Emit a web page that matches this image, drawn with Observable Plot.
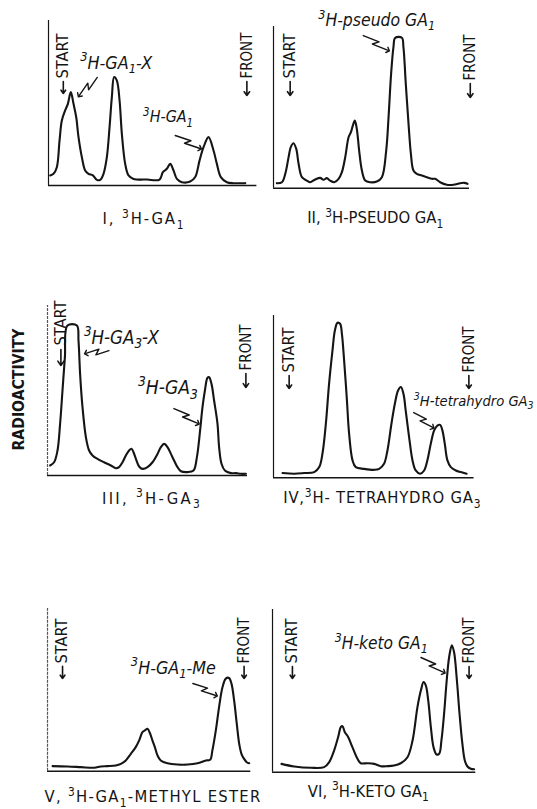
<!DOCTYPE html>
<html><head><meta charset="utf-8">
<script src="https://cdn.jsdelivr.net/npm/d3@7"></script>
<script src="https://cdn.jsdelivr.net/npm/@observablehq/plot@0.6"></script>
<style>
body{margin:0;background:#fff}
#chart{position:relative;width:537px;height:809px;overflow:hidden;background:#fff}
#chart svg{position:absolute;overflow:visible;background:transparent}
</style>
</head><body><div id="chart"></div><script>
// ---- data: chromatogram traces (x = % of distance along the strip, y = relative radioactivity) ----
const traceI = [[0.8,6.1],[2.4,7.1],[4,11.1],[5.3,27.3],[6.4,39.4],[8,45.5],[9.3,49.5],[10.7,56.6],[12,49.5],[13.3,41.4],[14.4,29.3],[16,17.2],[17.6,9.1],[19.2,7.1],[21.3,6.1],[23.2,3.4],[24.8,3.4],[26.4,7.1],[28,17.2],[29.3,35.4],[30.4,53.5],[31.5,65.7],[32.8,63.6],[34.1,51.5],[35.2,31.3],[36.8,13.1],[38.4,6.1],[40.8,4],[47.2,3.6],[53.3,3.6],[54.9,8.1],[56.8,10.1],[58.4,13.1],[60,9.1],[61.6,4],[64,2],[68,2.4],[70.4,5.1],[72.5,15.2],[74.4,23.2],[76.8,29.3],[79.2,21.2],[80.8,13.1],[82.7,5.1],[85.6,2],[88.8,1.4],[94.4,1.4]];
const traceII = [[1.7,3.1],[4.3,3.7],[6,8.9],[7.7,19.2],[8.8,25.4],[10.2,27.8],[11.6,24.3],[12.8,15.1],[14.5,6.8],[17,4.7],[18.7,3.7],[21.3,5.4],[23.8,6.4],[25.5,5.2],[27.2,6.2],[28.9,4.7],[31,3.7],[33.2,5.8],[34.9,9.9],[36.6,19.2],[38.3,31.5],[39.5,34.6],[40.5,38.8],[41.5,41.9],[42.5,36.7],[43.7,23.3],[45.1,10.9],[46.8,4.7],[49.3,3.7],[52.7,4.1],[55.3,6.8],[57.5,23.3],[58.7,43.9],[60,70.7],[61.2,87.2],[62.1,93],[65.5,93],[66.3,87.2],[67.5,64.5],[68.9,39.8],[70.1,21.2],[71.4,10.9],[73.1,8.9],[75.7,7.8],[78.2,6.8],[80.8,5.8],[82.5,5.8],[85,3.7],[88.4,2.1],[91.8,2.1],[95.2,3.1],[97.3,3.3],[99,2.7]];
const traceIII = [[1.3,5.9],[3.3,7.8],[5,14.7],[6.3,30.4],[7.5,50],[8.7,69.6],[10,88.2],[14.7,88.2],[15.5,79.4],[16.3,59.8],[17.5,40.2],[19.2,22.5],[20.8,14.7],[22.5,11.8],[25,9.8],[28.3,7.8],[31.7,5.9],[34.2,4.3],[35.8,4.9],[37.5,7.8],[39.2,11.8],[40.8,14.7],[42,15.7],[43,13.7],[44.2,9.8],[45.8,5.3],[47.5,3.9],[50,4.9],[52.5,7.8],[55,12.7],[56.7,16.7],[58.3,18.6],[60,16.7],[61.7,12.7],[63.3,8.8],[65,4.9],[66.7,2.5],[70,2],[73,2.9],[74.7,10.8],[76.3,26.5],[77.5,40.2],[78.7,50],[80,57.5],[80.8,57.8],[82,53.9],[83.3,44.1],[85,30.4],[85.8,16.7],[87,6.9],[88.7,2.9],[91.7,1.4],[94.2,1.4],[96.7,1],[99.2,1]];
const traceIV = [[4.5,2.9],[10.3,2.5],[15.3,2.9],[20.3,3.5],[22.8,6.6],[24.4,14.8],[26.1,33.3],[27.7,57.9],[29.4,78.4],[30.6,90.8],[31.9,95.5],[33.2,94.9],[34.1,88.7],[35.2,72.3],[36.5,49.7],[37.7,27.1],[39.4,10.7],[41,6.6],[45.2,5.5],[50.2,4.9],[52.7,5.5],[55.1,8.6],[56.8,16.8],[58.8,33.3],[60.5,45.6],[62.1,53.8],[63.5,55.9],[64.8,51.7],[65.9,41.5],[67.6,25.1],[69.3,10.7],[70.9,4.5],[73.1,2.5],[75.1,4.5],[76.7,10.7],[78.4,20.9],[80.1,29.2],[81.7,32.2],[83.1,32.6],[84.2,29.2],[85.4,20.9],[86.7,10.7],[88.4,6.6],[90.9,4.5],[93.4,3.5],[96.3,2.5]];
const traceV = [[2.5,3.1],[9.8,2.9],[16.4,2.5],[23,2.1],[26.2,2.9],[29.5,3.1],[33.6,3.5],[36.1,4.5],[38.5,6.6],[41,10.7],[43.4,14.8],[45.1,18.9],[46.7,24],[47.9,25.1],[49.2,26.1],[50.5,23],[51.6,18.9],[52.8,14.8],[54.1,9.7],[55.7,6.6],[59,4.9],[63.9,4.1],[68.9,4.1],[73.8,4.9],[77.9,6.6],[80,7],[81.1,12.7],[82.8,25.1],[84.4,39.4],[86.1,51.7],[87.7,56.9],[89.3,57.3],[90.5,53.8],[91.8,43.5],[93.1,29.2],[94.3,16.8],[95.4,10.7],[96.7,7.6],[98,5.5],[99.2,4.9]];
const traceVI = [[4.4,5.1],[10.7,3.5],[18.9,2.7],[25.4,3.1],[27.9,6.2],[30.3,13.3],[32.3,21.6],[33.6,27.7],[34.4,28.3],[35.6,24.6],[37.2,21.6],[39.3,15.4],[41.8,8.2],[43.4,5.5],[46.7,5.5],[50,5.1],[53.3,3.7],[56.6,3.7],[59.8,4.1],[63.1,5.5],[66.4,9.2],[68.9,19.5],[71.3,40],[73,50.3],[74.3,55.4],[75.4,53.4],[76.6,44.1],[77.9,27.7],[79.2,15.4],[80.7,10.9],[82,11.3],[83.1,19.5],[84.4,35.9],[85.7,56.5],[86.9,70.8],[88.2,78],[89.3,73.9],[90.7,56.5],[92,35.9],[93.4,17.5],[94.6,7.2],[95.9,3.5],[97.5,2.1],[99.2,1.8]];

// ---- texts ----
const captions = ["I, ³H-GA₁", "II, ³H-PSEUDO GA₁", "III, ³H-GA₃", "IV,³H- TETRAHYDRO GA₃", "V, ³H-GA₁-METHYL ESTER", "VI, ³H-KETO GA₁"];
const yLabel = "RADIOACTIVITY";
const startText = "START";
const frontText = "FRONT";

// ---- annotation anchors (data units) ----
const peakLabels = [
  [{text:"³H-GA₁-X", x:15.2, y:70.9}, {text:"³H-GA₁", x:45.4, y:38.2}],
  [{text:"³H-pseudo GA₁", x:22.8, y:100.6}],
  [{text:"³H-GA₃-X", x:18.2, y:77.6}, {text:"³H-GA₃", x:45.2, y:48.2}],
  [{text:"³H-tetrahydro GA₃", x:69.9, y:44.5}],
  [{text:"³H-GA₁-Me", x:41, y:60}],
  [{text:"³H-keto GA₁", x:30.6, y:76}]
];
const pointerArrows = [
  [[[23.4,65.5],[14.7,54.5]], [[60.8,30.3],[72.8,22.4]]],
  [[[45.8,94.4],[58.5,85.2]]],
  [[[30.7,73.5],[19.2,71.8]], [[63.2,39.4],[75.2,30.6]]],
  [[[69.9,40.2],[79.4,31]]],
  [[[71.5,53.9],[82.9,46.5]]],
  [[[73,70.5],[84.3,61.3]]]
];
// [x, text bottom, arrow top, arrow tip]
const startMark = [[7.1,64.8,63,55.8],[8.5,67.8,66,57.3],[6.7,76.5,74.1,64.7],[7.8,64.9,63,55],[7.4,66.2,64.4,57],[9.8,66.8,65,57.6]];
const frontMark = [[95.2,64.8,63,54.5],[100.4,66.6,64.7,56.1],[99.2,61.8,60,51.8],[97.4,64.9,63,55],[96.7,66.2,64.4,57],[96.7,66.8,65,57.6]];
const captionPos = [[45.4,-23.6],[51.9,-21.8],[51.7,-16.5],[54,-15.8],[51.6,-19.2],[47.1,-15]];
const yLabelPos = [-14.1, 50.6];

// ---- layout (page px of each panel's axes) and text widths to fit (px) ----
const layout = [
  {x0:48.3, x1:256.7, yT:20, yB:185},
  {x0:273.3, x1:469.3, yT:26, yB:187.7},
  {x0:46.7, x1:246.7, yT:305, yB:475},
  {x0:272.7, x1:473.3, yT:315, yB:477.3},
  {x0:46.7, x1:250, yT:608, yB:770.7},
  {x0:271.7, x1:475, yT:609, yB:771.7}
];
// mode: "stretch" = textLength, "size" = scale font size, "space" = letter-spacing
const fitWidth = {
  "START":[45,"stretch"], "FRONT":[46,"stretch"], "RADIOACTIVITY":[122,"stretch"],
  "I, ³H-GA₁":[83,"space"], "II, ³H-PSEUDO GA₁":[136,"space"], "III, ³H-GA₃":[100,"space"], "IV,³H- TETRAHYDRO GA₃":[198,"space"], "V, ³H-GA₁-METHYL ESTER":[217,"space"], "VI, ³H-KETO GA₁":[121,"space"],
  "³H-GA₁-X":[72,"size"], "³H-GA₁":[50,"size"], "³H-pseudo GA₁":[117,"size"], "³H-GA₃-X":[75,"size"], "³H-GA₃":[60,"size"], "³H-tetrahydro GA₃":[120,"size"], "³H-GA₁-Me":[85,"size"], "³H-keto GA₁":[93,"size"]
};
const traces = [traceI, traceII, traceIII, traceIV, traceV, traceVI];

const FONT = "'DejaVu Sans Condensed','Liberation Sans Narrow','DejaVu Sans',sans-serif";
const INK = "#151515";

function bolt(s, e, kx, ky) {
  const sx = s[0]*kx, sy = s[1]*ky, ex = e[0]*kx, ey = e[1]*ky;
  const dx = ex - sx, dy = ey - sy, L = Math.hypot(dx, dy);
  const px = -dy / L, py = dx / L, a = 2.6;
  const p1 = [sx + dx*0.58 + px*a, sy + dy*0.58 + py*a];
  const p2 = [sx + dx*0.42 - px*a, sy + dy*0.42 - py*a];
  return [[sx,sy], p1, p2, [ex,ey]].map(([x,y]) => [x/kx, y/ky]);
}

const SUP = {"³":"3"}, SUB = {"₁":"1","₃":"3"};
const SMALL = 0.72;
function enrich(svg) {
  d3.select(svg).selectAll("text").each(function() {
    const t = this.textContent;
    const fs = parseFloat(getComputedStyle(this).fontSize) || 15;
    const runs = [];
    for (const ch of t) {
      const type = SUP[ch] ? "sup" : SUB[ch] ? "sub" : "n";
      const c = SUP[ch] || SUB[ch] || ch;
      if (runs.length && runs[runs.length-1].type === type) runs[runs.length-1].s += c;
      else runs.push({type, s:c});
    }
    if (runs.length > 1) {
      this.textContent = "";
      let shift = 0;
      for (const r of runs) {
        const target = r.type === "sup" ? -0.4 : r.type === "sub" ? 0.26 : 0;
        const scale = r.type === "n" ? 1 : SMALL;
        const ts = document.createElementNS("http://www.w3.org/2000/svg", "tspan");
        if (target !== shift) ts.setAttribute("dy", ((target - shift)/scale).toFixed(3) + "em");
        shift = target;
        if (scale !== 1) ts.setAttribute("font-size", (scale*100) + "%");
        ts.textContent = r.s;
        this.appendChild(ts);
      }
    }
    const f = fitWidth[t];
    if (!f) return;
    const [w, mode] = f;
    const natural = this.getComputedTextLength();
    if (mode === "stretch") {
      this.setAttribute("textLength", w);
      this.setAttribute("lengthAdjust", "spacingAndGlyphs");
    } else if (mode === "size" && natural > 0) {
      this.setAttribute("font-size", (fs * w / natural).toFixed(2));
    } else if (mode === "space" && natural > 0) {
      const n = [...t].length;
      const ls = (w - natural) / n;
      this.setAttribute("letter-spacing", ls.toFixed(2));
      this.setAttribute("dx", (ls / 2).toFixed(2));
    }
  });
}

const chart = document.getElementById("chart");
layout.forEach((L, i) => {
  const w = L.x1 - L.x0, h = L.yB - L.yT;
  const kx = w/100, ky = h/100;
  const dashed = i === 2 || i === 4;
  const marks = [
    Plot.ruleY([0], {x1:0, x2:100, stroke:INK, strokeWidth:1.4}),
    Plot.ruleX([0], {y1:0, y2:100, stroke: dashed ? "#555" : INK, strokeWidth:1.2, strokeDasharray: dashed ? "3,1" : null}),
    Plot.line(traces[i], {curve:"catmull-rom", stroke:INK, strokeWidth:2.1, strokeLinejoin:"round"}),
    Plot.text([startMark[i]], {x:d=>d[0], y:d=>d[1], text:()=>startText, rotate:-90, textAnchor:"start", lineAnchor:"middle", fontSize:15, fontFamily:FONT, fill:INK}),
    Plot.text([frontMark[i]], {x:d=>d[0], y:d=>d[1], text:()=>frontText, rotate:-90, textAnchor:"start", lineAnchor:"middle", fontSize:15, fontFamily:FONT, fill:INK}),
    Plot.arrow([startMark[i], frontMark[i]], {x1:d=>d[0], y1:d=>d[2], x2:d=>d[0], y2:d=>d[3], stroke:INK, strokeWidth:1.6, headLength:6, headAngle:70}),
    Plot.text(peakLabels[i], {x:"x", y:"y", text:"text", textAnchor:"start", lineAnchor:"bottom", fontSize:17, fontStyle:"italic", fontFamily:FONT, fill:INK}),
    Plot.text([captionPos[i]], {x:d=>d[0], y:d=>d[1], text:()=>captions[i], textAnchor:"middle", lineAnchor:"bottom", fontSize:16.5, fontFamily:FONT, fill:INK}),
    ...pointerArrows[i].map(([s,e]) => Plot.line(bolt(s,e,kx,ky), {stroke:INK, strokeWidth:1.4, markerEnd:"arrow"}))
  ];
  if (i === 2) marks.push(Plot.text([yLabelPos], {x:d=>d[0], y:d=>d[1], text:()=>yLabel, rotate:-90, textAnchor:"middle", lineAnchor:"middle", fontSize:15, fontWeight:"bold", fontFamily:FONT, fill:INK}));
  const svg = Plot.plot({
    width: w, height: h,
    marginLeft:0, marginRight:0, marginTop:0, marginBottom:0,
    x:{domain:[0,100], axis:null},
    y:{domain:[0,100], axis:null},
    style:{overflow:"visible", background:"transparent"},
    marks
  });
  svg.style.left = L.x0 + "px";
  svg.style.top = L.yT + "px";
  chart.appendChild(svg);
  enrich(svg);
});
</script></body></html>
